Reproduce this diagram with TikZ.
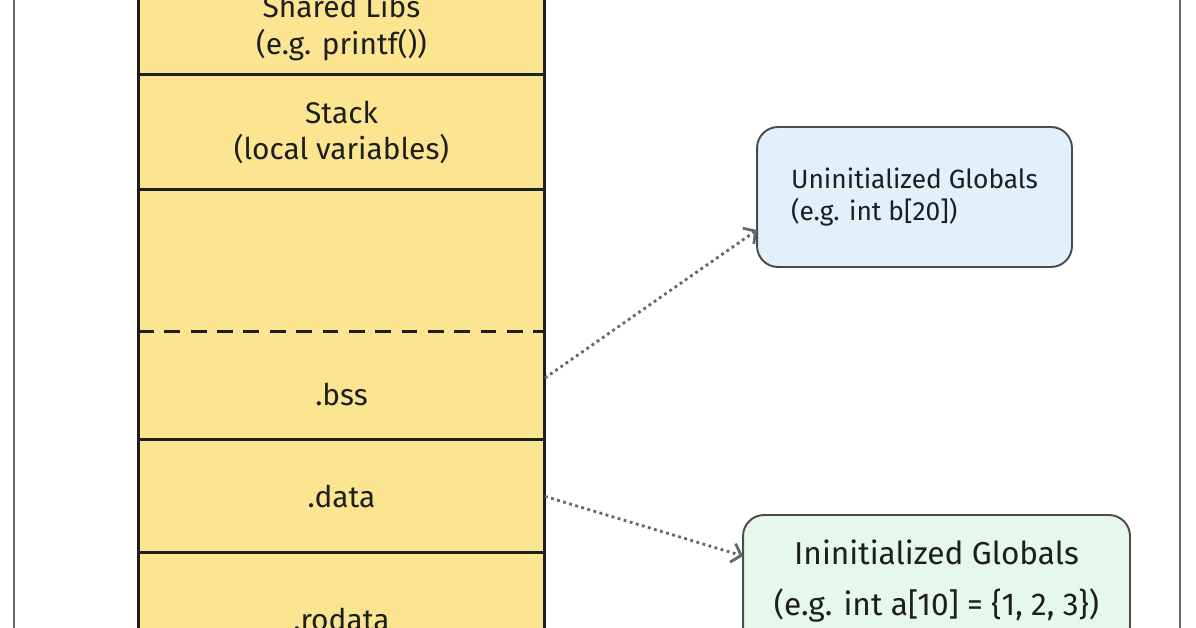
\documentclass[tikz,border=0pt]{standalone}
\usepackage{fontspec}
\setmainfont{Fira Sans}
\usetikzlibrary{positioning,arrows.meta}
\definecolor{segyellow}{RGB}{251,229,145}
\definecolor{uninitblue}{RGB}{226,240,251}
\definecolor{initgreen}{RGB}{230,247,235}
\definecolor{inkdark}{RGB}{30,30,30}
\definecolor{framegray}{RGB}{105,105,105}
\tikzset{
    seg/.style={fill=segyellow, minimum width=8.14cm, inner sep=0pt, outer sep=0pt, align=center, text=inkdark, font=\fontsize{17}{21}\selectfont},
    segline/.style={draw=inkdark, line width=1.7pt},
    globbox/.style={draw=inkdark!80, line width=1.1pt, rounded corners=0.42cm, inner sep=0pt, outer sep=0pt, text=inkdark},
    ptr/.style={draw=black!60, dotted, line width=1.6pt, -{Straight Barb[length=5pt,width=11pt]}}
}
\begin{document}
\begin{tikzpicture}[x=0.02cm, y=-0.02cm, node distance=0pt]
        \useasboundingbox (0,0) rectangle (1196,628);
        \clip (0,0) rectangle (1196,628);
        \fill[white] (0,0) rectangle (1196,628);
        \draw[framegray, line width=1.1pt] (14,-20) rectangle (1180,660);
        \node[seg, minimum height=1.9cm] (shared) at (341.5,27.5) {Shared Libs\\(e.g. printf())};
        \node[seg, minimum height=2.3cm, below=of shared] (stack) {Stack\\(local variables)};
        \node[seg, minimum height=2.84cm, below=of stack] (heap) {};
        \node[seg, minimum height=2.16cm, below=of heap] (bss) {\rule{0pt}{22pt}.bss};
        \node[seg, minimum height=2.26cm, below=of bss] (data) {.data};
        \node[seg, minimum height=2.68cm, below=of data] (rodata) {.rodata};
        \draw[segline] (shared.north west) -- (rodata.south west);
        \draw[segline] (shared.north east) -- (rodata.south east);
        \draw[segline] (shared.south west) -- (shared.south east);
        \draw[segline] (stack.south west) -- (stack.south east);
        \draw[segline, dash pattern=on 9pt off 6pt] (heap.south west) -- (heap.south east);
        \draw[segline] (bss.south west) -- (bss.south east);
        \draw[segline] (data.south west) -- (data.south east);
        \node[globbox, fill=uninitblue, minimum width=6.3cm, minimum height=2.8cm, align=left, font=\fontsize{15}{18}\selectfont] (uninit) at (914.5,197) {Uninitialized Globals\\(e.g. int b[20])};
        \node[globbox, fill=initgreen, minimum width=7.74cm, minimum height=2.64cm, align=center, font=\fontsize{18}{29}\selectfont] (init) at (936.5,581) {Ininitialized Globals\\(e.g. int a[10] = \{1, 2, 3\})};
        \draw[ptr] ([yshift=0.16cm]bss.east) -- ([yshift=-0.66cm]uninit.west);
        \draw[ptr] (data.east) -- ([yshift=0.5cm]init.west);
    \end{tikzpicture}
\end{document}
